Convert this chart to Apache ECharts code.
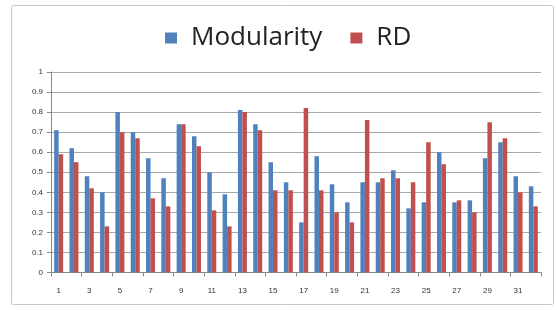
<!DOCTYPE html>
<html>
<head>
<meta charset="utf-8">
<script src="https://cdn.jsdelivr.net/npm/echarts@6/dist/echarts.min.js"></script>
<style>
  html, body { margin: 0; padding: 0; background: #fff; }
  #main { width: 557px; height: 310px; }
</style>
</head>
<body>
<div id="main"></div>
<script>
// categories 1..32
let categories = ['1', '2', '3', '4', '5', '6', '7', '8', '9', '10', '11', '12', '13', '14', '15', '16',
    '17', '18', '19', '20', '21', '22', '23', '24', '25', '26', '27', '28', '29', '30', '31', '32'];
let modularity = [0.71, 0.62, 0.48, 0.40, 0.80, 0.70, 0.57, 0.47, 0.74, 0.68, 0.50, 0.39, 0.81, 0.74, 0.55, 0.45,
    0.25, 0.58, 0.44, 0.35, 0.45, 0.45, 0.51, 0.32, 0.35, 0.60, 0.35, 0.36, 0.57, 0.65, 0.48, 0.43];
let rd = [0.59, 0.55, 0.42, 0.23, 0.70, 0.67, 0.37, 0.33, 0.74, 0.63, 0.31, 0.23, 0.80, 0.71, 0.41, 0.41,
    0.82, 0.41, 0.30, 0.25, 0.76, 0.47, 0.47, 0.45, 0.65, 0.54, 0.36, 0.30, 0.75, 0.67, 0.40, 0.33];
let seriesNames = ['Modularity', 'RD'];
let seriesColors = ['#4f81bd', '#c0504d'];

let myChart = echarts.init(document.getElementById('main'));

let option = {
    backgroundColor: '#fff',
    animation: false,
    graphic: [{
        type: 'rect',
        shape: { x: 11.5, y: 5.5, width: 542, height: 299, r: 2 },
        style: { fill: 'none', stroke: '#c8c8c8', lineWidth: 1 },
        silent: true
    }],
    legend: {
        top: 20,
        left: 160,
        itemWidth: 12,
        itemHeight: 11,
        itemGap: 28,
        icon: 'rect',
        textStyle: { fontFamily: 'Open Sans', fontSize: 26, color: '#222', padding: [0, 0, 0, 9] },
        data: seriesNames
    },
    grid: { left: 51, right: 16, top: 72, bottom: 37.5 },
    xAxis: {
        type: 'category',
        data: categories,
        axisLine: { lineStyle: { color: '#888' } },
        axisTick: { show: true, length: 4, lineStyle: { color: '#888' } },
        axisLabel: { interval: 1, fontSize: 8, color: '#333', margin: 14 }
    },
    yAxis: {
        type: 'value',
        min: 0,
        max: 1,
        interval: 0.1,
        axisLine: { show: true, lineStyle: { color: '#888' } },
        axisTick: { show: true, length: 4, lineStyle: { color: '#888' } },
        axisLabel: { fontSize: 8, color: '#333', margin: 8 },
        splitLine: { lineStyle: { color: '#a8a8a8' } }
    },
    series: [{
        name: seriesNames[0],
        type: 'bar',
        data: modularity,
        barWidth: 4.5,
        barGap: '0%',
        itemStyle: { color: seriesColors[0] }
    }, {
        name: seriesNames[1],
        type: 'bar',
        data: rd,
        barWidth: 4.5,
        itemStyle: { color: seriesColors[1] }
    }]
};

myChart.setOption(option, true);
</script>
</body>
</html>
